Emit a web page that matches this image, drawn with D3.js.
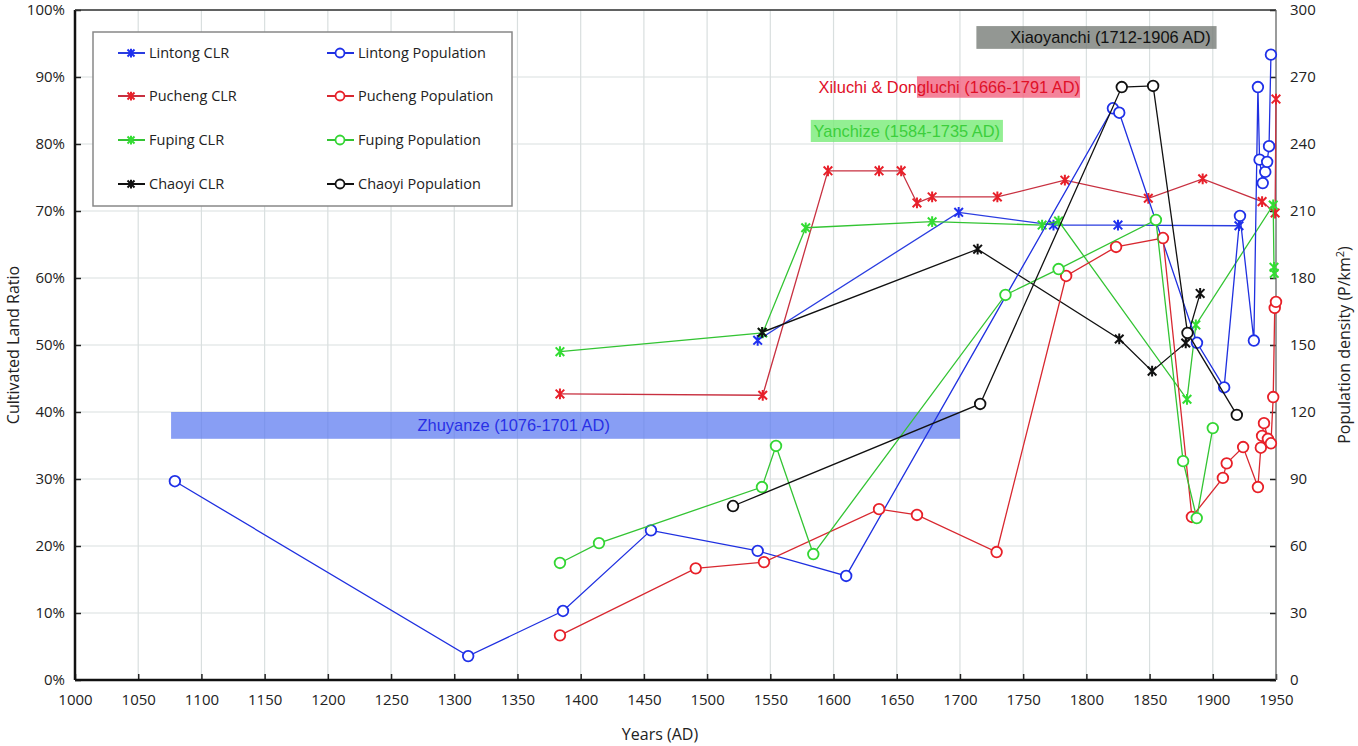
<!DOCTYPE html>
<html><head><meta charset="utf-8">
<script src="https://cdn.jsdelivr.net/npm/d3@7"></script>
<style>body{margin:0;background:#fff}</style>
</head><body>
<svg id="c" width="1358" height="746"></svg>
<script>
// ---- data ----
const xTicks = [1000,1050,1100,1150,1200,1250,1300,1350,1400,1450,1500,1550,1600,1650,1700,1750,1800,1850,1900,1950];
const leftTicks = [0,10,20,30,40,50,60,70,80,90,100];
const rightTicks = [0,30,60,90,120,150,180,210,240,270,300];

const lintongCLR = [[1540,50.7],[1699,69.8],[1774,67.9],[1825,67.9],[1920.7,67.8]];
const puchengCLR = [[1383.6,42.7],[1544,42.5],[1595.6,76],[1636,76],[1653.5,76],[1666,71.2],[1678,72.1],[1729.6,72.1],[1783,74.6],[1849,71.9],[1892,74.8],[1939,71.4],[1949.3,69.7],[1950,86.7]];
const fupingCLR = [[1383.6,49],[1544,51.8],[1578,67.5],[1678,68.4],[1765,67.9],[1778,68.5],[1879.6,41.9],[1886.6,53],[1947.8,70.9],[1948.4,61.6],[1948.6,60.7]];
const chaoyiCLR = [[1543.5,51.9],[1714,64.3],[1826,50.9],[1852,46.1],[1878.6,50.3],[1890,57.7]];

const lintongPop = [[1079,89],[1311,10.7],[1386,30.9],[1455.6,67],[1540,57.8],[1610,46.6],[1821,256],[1826,254],[1887.5,151],[1909,131],[1921.5,207.8],[1932.5,152],[1935.7,265.5],[1937,233],[1939.5,222.5],[1941.5,227.5],[1943,232],[1944.5,239],[1946,280]];
const puchengPop = [[1383.6,20],[1491,50],[1545,52.8],[1636,76.5],[1666,73.9],[1729,57.3],[1784,180.9],[1823.5,193.9],[1860.6,197.9],[1883.5,73],[1908,90.5],[1911,97],[1924,104.3],[1935.7,86.4],[1938,104],[1939,109.3],[1940.5,115],[1943.6,108],[1946,106],[1947.8,126.7],[1949,166.6],[1950,169.3]];
const fupingPop = [[1383.6,52.4],[1414.5,61.3],[1543.4,86.4],[1554.5,104.8],[1584,56.4],[1736,172.4],[1778,184],[1855,206],[1876.5,98],[1887.3,72.5],[1900,112.8]];
const chaoyiPop = [[1520.5,77.9],[1716,123.6],[1828,265.5],[1852.8,266],[1880,155.4],[1919,118.7]];

const bandNames = ["Zhuyanze (1076-1701 AD)","Xiaoyanchi (1712-1906 AD)","Xiluchi & Dongluchi (1666-1791 AD)","Yanchize (1584-1735 AD)"];
const bandStart = [1076,1713,1666,1582];
const bandEnd = [1700,1903,1795,1734];
const bandTop = [40,97.6,90.1,83.6];
const bandBottom = [36,94.2,86.9,80.3];

// ---- scales ----
const svg=d3.select("#c");
const x=d3.scaleLinear().domain([1000,1950]).range([75,1276]);
const yL=d3.scaleLinear().domain([0,100]).range([680,10]);
const yR=d3.scaleLinear().domain([0,300]).range([680,10]);
const tickFont="'Open Sans', 'Noto Sans', sans-serif";

// grid
const g=svg.append("g");
g.selectAll(".vg").data(xTicks.slice(1)).enter().append("line")
 .attr("x1",d=>x(d)).attr("x2",d=>x(d)).attr("y1",yL(0)).attr("y2",yL(100))
 .attr("stroke","#d9dfdf").attr("stroke-width",1.2);
g.selectAll(".hg").data(leftTicks.slice(1)).enter().append("line")
 .attr("x1",x(1000)).attr("x2",x(1950)).attr("y1",d=>yL(d)).attr("y2",d=>yL(d))
 .attr("stroke","#d9dfdf").attr("stroke-width",1.2);

// bands
const bands=bandNames.map((n,i)=>({n,s:bandStart[i],e:bandEnd[i],t:bandTop[i],b:bandBottom[i]}));
const bandFill=["rgba(90,120,240,0.72)","rgba(120,125,120,0.8)","rgba(240,90,120,0.75)","rgba(120,235,120,0.8)"];
const bandText=["#2830e6","#111","#e01028","#3ccf3c"];
svg.append("g").selectAll("rect").data(bands).enter().append("rect")
 .attr("x",d=>x(d.s)).attr("width",d=>x(d.e)-x(d.s))
 .attr("y",d=>yL(d.t)).attr("height",d=>yL(d.b)-yL(d.t))
 .attr("fill",(d,i)=>bandFill[i]);

// axes
const axB=d3.axisBottom(x).tickValues(xTicks).tickSize(-6).tickPadding(14).tickFormat(d3.format("d"));
const axL=d3.axisLeft(yL).tickValues(leftTicks).tickSize(-6).tickPadding(10).tickFormat(d=>d+"%");
const axR=d3.axisRight(yR).tickValues(rightTicks).tickSize(-6).tickPadding(14);
function styleAx(sel){sel.select(".domain").remove();sel.selectAll("text").attr("font-family",tickFont).attr("font-size",15).attr("fill","#222");sel.selectAll("line").attr("stroke","#222").attr("stroke-width",1.5);}
svg.append("g").attr("transform","translate(0,680)").call(axB).call(styleAx);
svg.append("g").attr("transform","translate(75,0)").call(axL).call(styleAx);
svg.append("g").attr("transform","translate(1276,0)").call(axR).call(styleAx);
svg.append("line").attr("x1",x(1000)).attr("x2",x(1950)).attr("y1",yL(0)).attr("y2",yL(0)).attr("stroke","#111").attr("stroke-width",2.5);
svg.append("line").attr("x1",x(1000)).attr("x2",x(1000)).attr("y1",yL(0)).attr("y2",yL(100)).attr("stroke","#111").attr("stroke-width",2.5);
svg.append("line").attr("x1",x(1000)).attr("x2",x(1950)).attr("y1",yL(100)).attr("y2",yL(100)).attr("stroke","#333").attr("stroke-width",1.5);
svg.append("line").attr("x1",x(1950)).attr("x2",x(1950)).attr("y1",yL(0)).attr("y2",yL(100)).attr("stroke","#666").attr("stroke-width",1.2);

// axis titles
svg.append("text").attr("x",660).attr("y",740).attr("text-anchor","middle").attr("font-family",tickFont).attr("font-size",16).attr("fill","#222").text("Years (AD)");
svg.append("text").attr("transform","translate(19,345) rotate(-90)").attr("text-anchor","middle").attr("font-family",tickFont).attr("font-size",16).attr("fill","#222").text("Cultivated Land Ratio");
const rt=svg.append("text").attr("transform","translate(1350,345) rotate(-90)").attr("text-anchor","middle").attr("font-family",tickFont).attr("font-size",16).attr("fill","#222");
rt.append("tspan").text("Population density (P/km");
rt.append("tspan").attr("dy",-6).attr("font-size",11).text("2");
rt.append("tspan").attr("dy",6).text(")");

// band labels
const lblX=[x(1271),x(1819),x(1795),x(1658)];
const lblAnchor=["start","middle","end","middle"];
svg.append("g").selectAll("text").data(bands).enter().append("text")
 .attr("x",(d,i)=>lblX[i]).attr("y",d=>(yL(d.t)+yL(d.b))/2+6)
 .attr("text-anchor",(d,i)=>lblAnchor[i])
 .attr("font-family","'Liberation Sans', Arial, sans-serif").attr("font-size",16.4)
 .attr("fill",(d,i)=>bandText[i]).text(d=>d.n);

// series
const starPath = r => `M${-r},${-r}L${r},${r}M${-r},${r}L${r},${-r}M0,${-r*1.25}L0,${r*1.25}`;
const series=[
 {data:lintongCLR,y:yL,line:"#2a3de0",mk:"#1f30f0",type:"star"},
 {data:puchengCLR,y:yL,line:"#c83040",mk:"#e8202a",type:"star"},
 {data:fupingCLR,y:yL,line:"#33c433",mk:"#33dd33",type:"star"},
 {data:chaoyiCLR,y:yL,line:"#111",mk:"#111",type:"star"},
 {data:lintongPop,y:yR,line:"#1f30e0",mk:"#1f30e8",type:"circle"},
 {data:puchengPop,y:yR,line:"#d82830",mk:"#e82028",type:"circle"},
 {data:fupingPop,y:yR,line:"#33c433",mk:"#33d633",type:"circle"},
 {data:chaoyiPop,y:yR,line:"#111",mk:"#111",type:"circle"}
];
series.forEach(s=>{
 const gg=svg.append("g");
 gg.append("path").datum(s.data).attr("fill","none").attr("stroke",s.line).attr("stroke-width",1.3)
   .attr("d",d3.line().x(d=>x(d[0])).y(d=>s.y(d[1])));
 if(s.type==="circle"){
  gg.selectAll("circle").data(s.data).enter().append("circle")
   .attr("cx",d=>x(d[0])).attr("cy",d=>s.y(d[1])).attr("r",5.3)
   .attr("fill","#fff").attr("stroke",s.mk).attr("stroke-width",1.8);
 } else {
  gg.selectAll(".st").data(s.data).enter().append("path")
   .attr("transform",d=>`translate(${x(d[0])},${s.y(d[1])})`).attr("d",starPath(4.3))
   .attr("stroke",s.mk).attr("stroke-width",2).attr("fill","none");
 }
});

// legend
const lg=svg.append("g");
lg.append("rect").attr("x",93).attr("y",32).attr("width",419).attr("height",174).attr("fill","#fff").attr("stroke","#888").attr("stroke-width",1.5);
const legNames=["Lintong CLR","Pucheng CLR","Fuping CLR","Chaoyi CLR","Lintong Population","Pucheng Population","Fuping Population","Chaoyi Population"];
const legRows=[53,96,140,184];
series.forEach((s,i)=>{
 const col=i<4?0:1, row=i%4;
 const lx=col?327:118, ly=legRows[row];
 lg.append("line").attr("x1",lx).attr("x2",lx+27).attr("y1",ly).attr("y2",ly).attr("stroke",s.line).attr("stroke-width",2);
 if(s.type==="circle") lg.append("circle").attr("cx",lx+13).attr("cy",ly).attr("r",4.5).attr("fill","#fff").attr("stroke",s.mk).attr("stroke-width",1.8);
 else lg.append("path").attr("transform",`translate(${lx+13},${ly})`).attr("d",starPath(3.5)).attr("stroke",s.mk).attr("stroke-width",2).attr("fill","none");
 lg.append("text").attr("x",lx+31).attr("y",ly+5).attr("font-family",tickFont).attr("font-size",14.5).attr("fill","#222").text(legNames[i]);
});
</script>
</body></html>
